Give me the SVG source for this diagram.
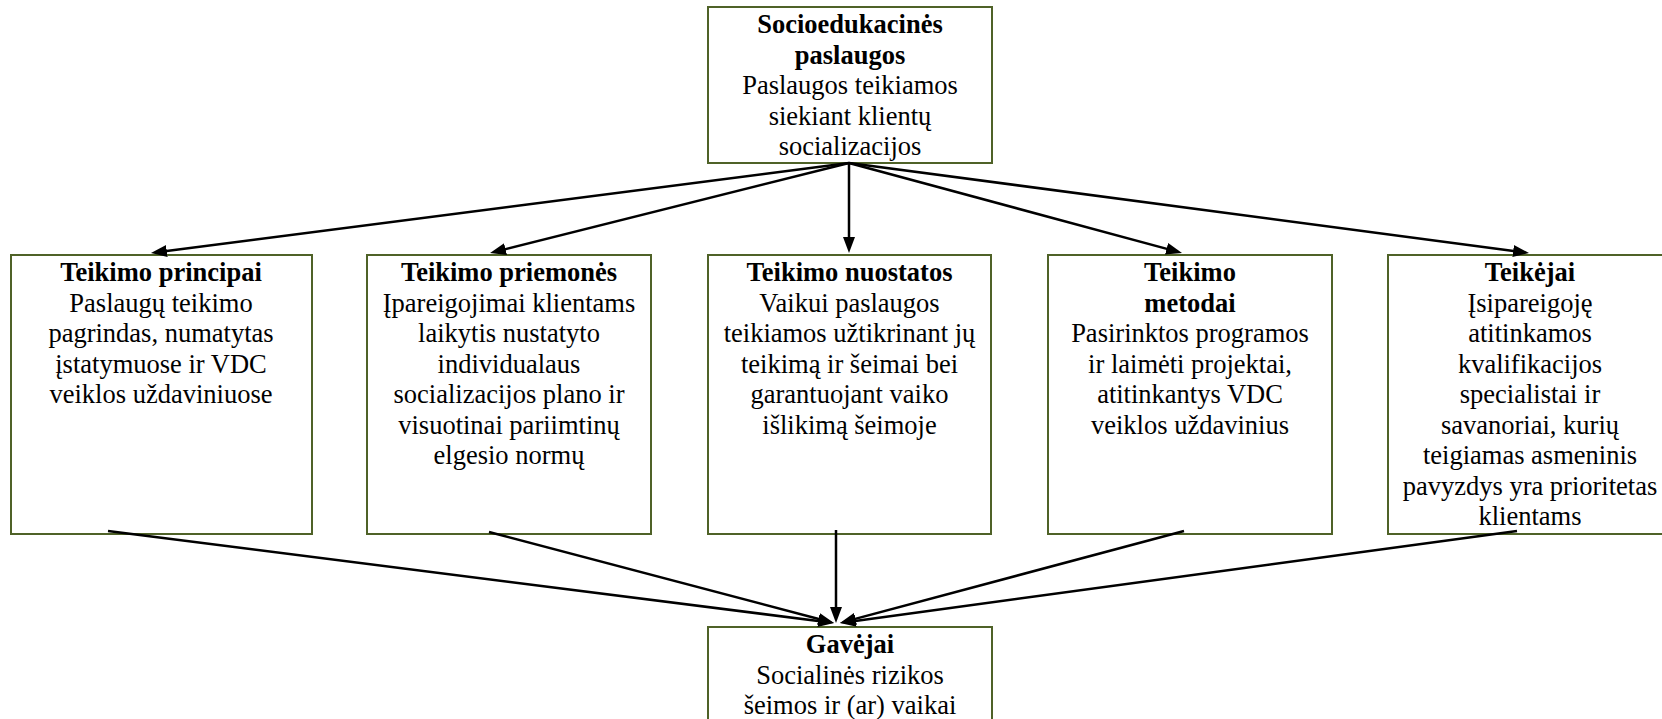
<svg xmlns="http://www.w3.org/2000/svg" width="1662" height="719" viewBox="0 0 1662 719">
<defs>
<style>
.box{fill:#ffffff;stroke:#4F6228;stroke-width:2}
.t{font-size:26.5px;fill:#000;text-anchor:middle}
.b{font-weight:bold}
.c{fill:none;stroke:#000;stroke-width:2.5}
</style>
<marker id="ah" markerUnits="userSpaceOnUse" markerWidth="16" markerHeight="12" refX="8" refY="6" orient="auto">
<path d="M0,0 L16,6 L0,12 z" fill="#000"/>
</marker>
</defs>
<rect width="1662" height="719" fill="#fff"/>
<g font-family="Liberation Serif, serif">
<g id="n-top">
<rect class="box" x="708" y="7" width="284" height="156"/>
<text class="t b" x="850" y="33">Socioedukacinės</text>
<text class="t b" x="850" y="63.5">paslaugos</text>
<text class="t" x="850" y="94">Paslaugos teikiamos</text>
<text class="t" x="850" y="124.5">siekiant klientų</text>
<text class="t" x="850" y="155">socializacijos</text>
</g>
<g id="n-principai">
<rect class="box" x="11" y="255" width="301" height="279"/>
<text class="t b" x="161" y="281">Teikimo principai</text>
<text class="t" x="161" y="311.5">Paslaugų teikimo</text>
<text class="t" x="161" y="342">pagrindas, numatytas</text>
<text class="t" x="161" y="372.5">įstatymuose ir VDC</text>
<text class="t" x="161" y="403">veiklos uždaviniuose</text>
</g>
<g id="n-priemones">
<rect class="box" x="367" y="255" width="284" height="279"/>
<text class="t b" x="509" y="281">Teikimo priemonės</text>
<text class="t" x="509" y="311.5">Įpareigojimai klientams</text>
<text class="t" x="509" y="342">laikytis nustatyto</text>
<text class="t" x="509" y="372.5">individualaus</text>
<text class="t" x="509" y="403">socializacijos plano ir</text>
<text class="t" x="509" y="433.5">visuotinai pariimtinų</text>
<text class="t" x="509" y="464">elgesio normų</text>
</g>
<g id="n-nuostatos">
<rect class="box" x="708" y="255" width="283" height="279"/>
<text class="t b" x="849.5" y="281">Teikimo nuostatos</text>
<text class="t" x="849.5" y="311.5">Vaikui paslaugos</text>
<text class="t" x="849.5" y="342">teikiamos užtikrinant jų</text>
<text class="t" x="849.5" y="372.5">teikimą ir šeimai bei</text>
<text class="t" x="849.5" y="403">garantuojant vaiko</text>
<text class="t" x="849.5" y="433.5">išlikimą šeimoje</text>
</g>
<g id="n-metodai">
<rect class="box" x="1048" y="255" width="284" height="279"/>
<text class="t b" x="1190" y="281">Teikimo</text>
<text class="t b" x="1190" y="311.5">metodai</text>
<text class="t" x="1190" y="342">Pasirinktos programos</text>
<text class="t" x="1190" y="372.5">ir laimėti projektai,</text>
<text class="t" x="1190" y="403">atitinkantys VDC</text>
<text class="t" x="1190" y="433.5">veiklos uždavinius</text>
</g>
<g id="n-teikejai">
<rect class="box" x="1388" y="255" width="284" height="279"/>
<text class="t b" x="1530" y="281">Teikėjai</text>
<text class="t" x="1530" y="311.5">Įsipareigoję</text>
<text class="t" x="1530" y="342">atitinkamos</text>
<text class="t" x="1530" y="372.5">kvalifikacijos</text>
<text class="t" x="1530" y="403">specialistai ir</text>
<text class="t" x="1530" y="433.5">savanoriai, kurių</text>
<text class="t" x="1530" y="464">teigiamas asmeninis</text>
<text class="t" x="1530" y="494.5">pavyzdys yra prioritetas</text>
<text class="t" x="1530" y="525">klientams</text>
</g>
<g id="n-gavejai">
<rect class="box" x="708" y="627" width="284" height="120"/>
<text class="t b" x="850" y="653">Gavėjai</text>
<text class="t" x="850" y="683.5">Socialinės rizikos</text>
<text class="t" x="850" y="714">šeimos ir (ar) vaikai</text>
</g>
</g>
<g id="connectors">
<line class="c" x1="849" y1="163" x2="158.9" y2="252" marker-end="url(#ah)"/>
<line class="c" x1="849" y1="163" x2="497.8" y2="251.1" marker-end="url(#ah)"/>
<line class="c" x1="849" y1="163" x2="849" y2="245" marker-end="url(#ah)"/>
<line class="c" x1="849" y1="163" x2="1174.3" y2="250.9" marker-end="url(#ah)"/>
<line class="c" x1="849" y1="163" x2="1521.1" y2="252" marker-end="url(#ah)"/>
<line class="c" x1="108" y1="531" x2="826.1" y2="622" marker-end="url(#ah)"/>
<line class="c" x1="489" y1="532" x2="826.3" y2="621" marker-end="url(#ah)"/>
<line class="c" x1="836" y1="530" x2="836" y2="615" marker-end="url(#ah)"/>
<line class="c" x1="1184" y1="531" x2="847.7" y2="620.9" marker-end="url(#ah)"/>
<line class="c" x1="1517" y1="531" x2="847.9" y2="621.9" marker-end="url(#ah)"/>
</g>
</svg>
